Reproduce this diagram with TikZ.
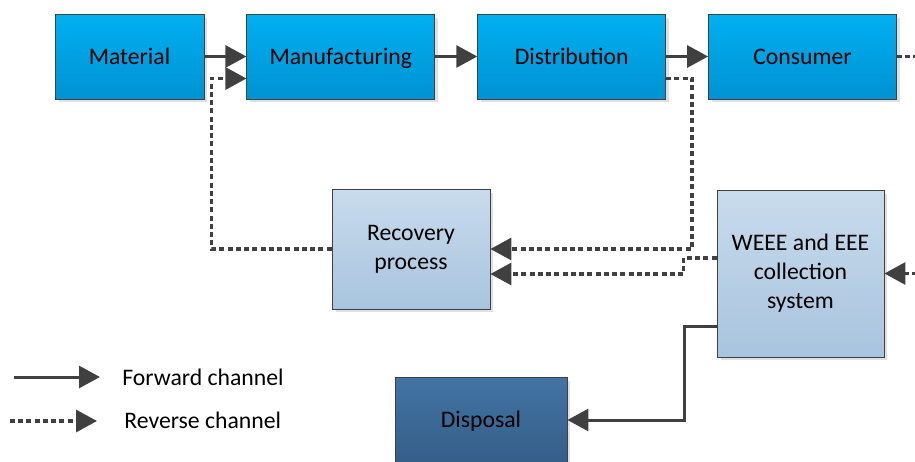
\documentclass[tikz,border=0pt]{standalone}
\usepackage{fontspec}
\setmainfont{Carlito}
\usetikzlibrary{positioning,arrows.meta,shadows}
\definecolor{cyantop}{HTML}{00B0F0}
\definecolor{cyanbot}{HTML}{0092D2}
\definecolor{palltop}{HTML}{C8DBEC}
\definecolor{pallbot}{HTML}{A8C4DE}
\definecolor{deeptop}{HTML}{4274A4}
\definecolor{deepbot}{HTML}{355E88}
\definecolor{linegray}{HTML}{404040}
\tikzset{>={Triangle[length=0.42cm,width=0.44cm]}}
\tikzset{
  flowbox/.style={rectangle, draw=linegray, line width=0.5pt, align=center,
    inner sep=0pt, font=\fontsize{13.5}{16.5}\selectfont,
    drop shadow={shadow xshift=0.07cm, shadow yshift=-0.07cm, fill=black!12, opacity=1}},
  stage/.style={flowbox, top color=cyantop, bottom color=cyanbot,
    minimum width=3.76cm, minimum height=1.7cm, text height=8.7pt, text depth=0pt},
  recov/.style={flowbox, top color=palltop, bottom color=pallbot},
  sink/.style={flowbox, top color=deeptop, bottom color=deepbot,
    minimum width=3.44cm, minimum height=1.72cm, text height=8.7pt, text depth=0pt},
  fwd/.style={->, color=linegray, line width=0.06cm},
  rev/.style={->, color=linegray, line width=0.065cm,
    dash pattern=on 0.1cm off 0.065cm},
  legtext/.style={anchor=west, inner sep=0pt, font=\fontsize{13.5}{16.5}\selectfont}
}

\begin{document}
\begin{tikzpicture}[x=0.02cm,y=-0.02cm, node distance=0.84cm]
  \useasboundingbox (0,0) rectangle (915,462);

  \node[stage, minimum width=2.98cm] (mat) at (129.5,56.5) {Material} ;
  \node[stage, right=of mat]  (man)  {Manufacturing} ;
  \node[stage, right=of man]  (dist) {Distribution} ;
  \node[stage, right=of dist] (con)  {Consumer} ;

  \node[recov, minimum width=3.16cm, minimum height=2.4cm] (rec) at (411,249)
    {Recovery\\process} ;
  \node[recov, minimum width=3.34cm, minimum height=3.34cm] (weee) at (800.5,273.5)
    {WEEE and EEE\\collection\\system} ;
  \node[sink] (disp) at (481,420) {Disposal} ;

  \coordinate (manin)    at ([yshift=-0.44cm]man.west);
  \coordinate (distout)  at ([yshift=-0.44cm]dist.east);
  \coordinate (weeeout)  at ([yshift=0.31cm]weee.west);
  \coordinate (weeedown) at ([yshift=-1.07cm]weee.west);

  % Edges
  \draw[fwd] (mat) -- (man);
  \draw[fwd] (man) -- (dist);
  \draw[fwd] (dist) -- (con);
  \draw[rev] (rec.west) -| ([xshift=-0.7cm]manin) -- (manin);
  \draw[rev] (distout) -- ++(0.52cm,0) |- (rec.east);
  \draw[rev] (weeeout) -- ++(-0.66cm,0) |- ([yshift=-0.5cm]rec.east);
  \draw[fwd] (weeedown) -- ++(-0.64cm,0) |- (disp.east);
  \draw[rev] (con.east) -- ++(1cm,0) |- (weee.east);

  % Legend
  \coordinate (fwdA) at (14,377);
  \coordinate (fwdB) at (100,377);
  \coordinate (revA) at (10,421);
  \coordinate (revB) at (97,421);
  \draw[fwd] (fwdA) -- (fwdB);
  \draw[rev] (revA) -- (revB);
  \node[legtext] (fwdlab) at (122,377) {Forward channel} ;
  \node[legtext] (revlab) at (124,420) {Reverse channel} ;

\end{tikzpicture}
\end{document}
